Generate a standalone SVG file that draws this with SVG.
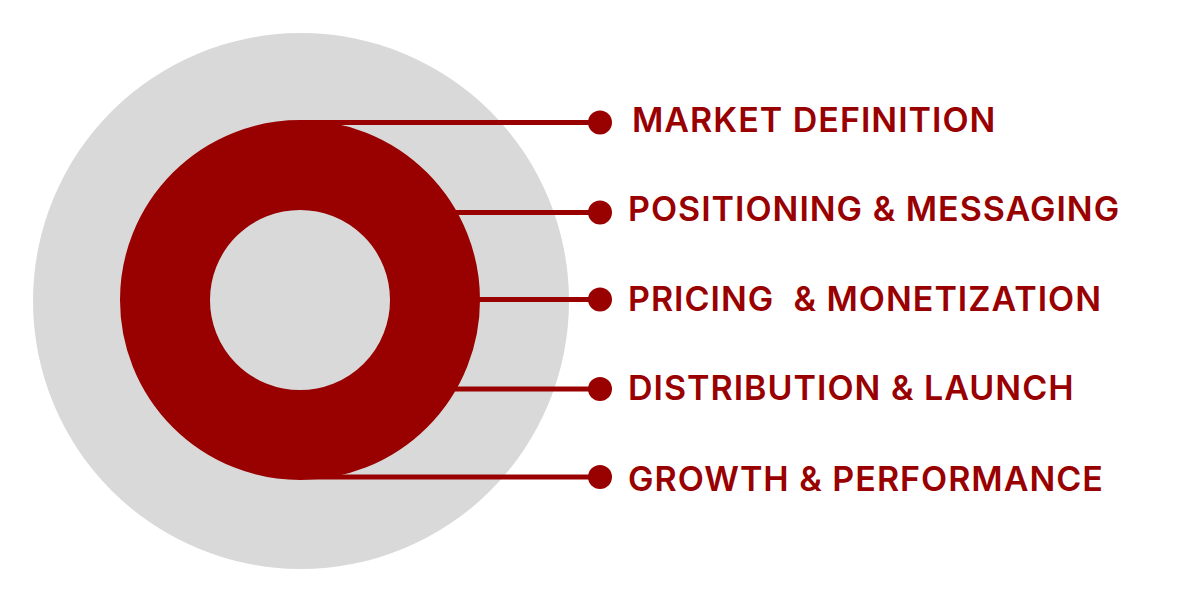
<svg xmlns="http://www.w3.org/2000/svg" width="1200" height="603" viewBox="0 0 1200 603">
  <style>
    .conn { stroke: #990000; stroke-width: 5; fill: none; }
    .dot { fill: #990000; }
    .lbl { font-family: Inter, Roboto, "Liberation Sans", sans-serif; font-weight: 600; font-size: 34px; letter-spacing: 1px; fill: #990000; }
  </style>
  <rect width="1200" height="603" fill="#ffffff"/>
  <g id="outer-circle">
    <circle cx="301" cy="301" r="268" fill="#d9d9d9"/>
  </g>
  <g id="donut">
    <circle cx="300" cy="300" r="135" fill="none" stroke="#990000" stroke-width="90"/>
  </g>
  <g id="connectors">
    <line class="conn" x1="300" y1="122.5" x2="600" y2="122.5"/>
    <circle class="dot" cx="600" cy="122.5" r="12"/>
    <line class="conn" x1="440" y1="212.5" x2="600" y2="212.5"/>
    <circle class="dot" cx="600" cy="212.5" r="12"/>
    <line class="conn" x1="460" y1="299.5" x2="600" y2="299.5"/>
    <circle class="dot" cx="600" cy="299.5" r="12"/>
    <line class="conn" x1="440" y1="389" x2="600" y2="389"/>
    <circle class="dot" cx="600" cy="389" r="12"/>
    <line class="conn" x1="300" y1="477" x2="600" y2="477"/>
    <circle class="dot" cx="600" cy="477" r="12"/>
  </g>
  <g id="label-market"><text class="lbl" x="632" y="132">MARKET DEFINITION</text></g>
  <g id="label-positioning"><text class="lbl" x="628" y="221">POSITIONING &amp; MESSAGING</text></g>
  <g id="label-pricing"><text class="lbl" x="628" y="311" xml:space="preserve">PRICING  &amp; MONETIZATION</text></g>
  <g id="label-distribution"><text class="lbl" x="628" y="400">DISTRIBUTION &amp; LAUNCH</text></g>
  <g id="label-growth"><text class="lbl" x="628" y="491">GROWTH &amp; PERFORMANCE</text></g>
</svg>
